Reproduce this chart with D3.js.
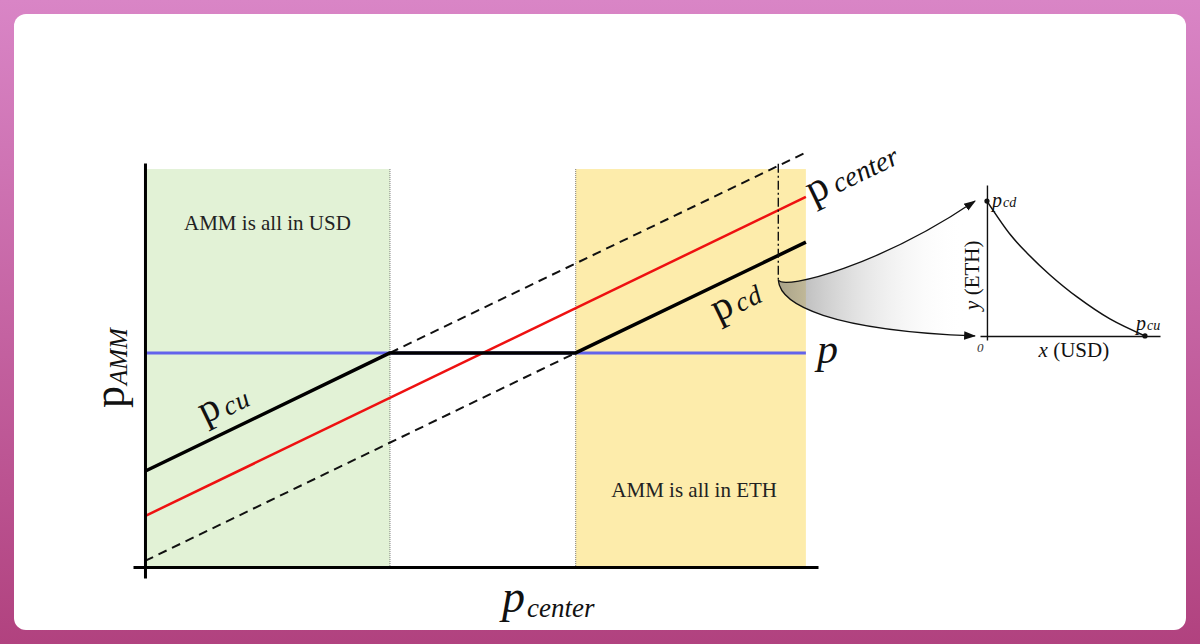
<!DOCTYPE html>
<html>
<head>
<meta charset="utf-8">
<script src="https://cdn.jsdelivr.net/npm/d3@7"></script>
<style>
  html, body { margin: 0; padding: 0; }
  body { width: 1200px; height: 644px; overflow: hidden; }
  text { font-family: "Liberation Serif", "DejaVu Serif", serif; }
</style>
</head>
<body>
<div id="chart"></div>
<script>
// main chart, p_center on x, p_AMM on y (arbitrary units)
const lineX = [0, 98.2];
const pCenterY = [12.6, 91.6];
const pCuDashX = [36.4, 98.2];
const pCuDashY = [53, 102.6];
const pCdDashX = [0, 64];
const pCdDashY = [1.5, 53];
const pAmmX = [0, 36.4, 64, 98.2];
const pAmmY = [23.7, 53, 53, 80.4];
const pPrice = 53;
const regionX = [[0, 36.4], [64, 98.2]];
const regionTop = 98.5;
const regionLabels = ['AMM is all in USD', 'AMM is all in ETH'];
const cutX = 94.1;
const cutY = [99.8, 71];

// inset: reserve curve, x (USD) vs y (ETH)
const curveX = [0, 0.15, 0.253, 0.399, 0.57, 0.778, 1];
const curveY = [1, 0.748, 0.615, 0.452, 0.289, 0.126, 0];

const width = 1200, height = 644;

const svg = d3.select('#chart')
  .append('svg')
  .attr('width', width)
  .attr('height', height);

const defs = svg.append('defs');

const bg = defs.append('linearGradient')
  .attr('id', 'bg')
  .attr('x1', 0).attr('y1', 0).attr('x2', 0).attr('y2', 1);
bg.append('stop').attr('offset', '0%').attr('stop-color', '#d985c6');
bg.append('stop').attr('offset', '100%').attr('stop-color', '#b1427f');

const fade = defs.append('linearGradient')
  .attr('id', 'fade')
  .attr('gradientUnits', 'userSpaceOnUse')
  .attr('x1', 778).attr('y1', 0).attr('x2', 965).attr('y2', 0);
fade.append('stop').attr('offset', '0%').attr('stop-color', '#707070').attr('stop-opacity', 0.6);
fade.append('stop').attr('offset', '100%').attr('stop-color', '#ffffff').attr('stop-opacity', 0);

defs.append('marker')
  .attr('id', 'arrow')
  .attr('viewBox', '0 0 10 10')
  .attr('refX', 9).attr('refY', 5)
  .attr('markerWidth', 12).attr('markerHeight', 12)
  .attr('markerUnits', 'userSpaceOnUse')
  .attr('orient', 'auto')
  .append('path')
  .attr('d', 'M0,1.5 L10,5 L0,8.5 Z')
  .attr('fill', '#111');

svg.append('rect')
  .attr('width', width).attr('height', height)
  .attr('fill', 'url(#bg)');

svg.append('rect')
  .attr('x', 14).attr('y', 14)
  .attr('width', 1172).attr('height', 616)
  .attr('rx', 12)
  .attr('fill', '#fff');

const x = d3.scaleLinear([-1.78, 100], [133, 818]);
const y = d3.scaleLinear([-2.72, 100], [578, 163]);

const line = d3.line().x((d) => x(d[0])).y((d) => y(d[1]));

// shaded regions
const regionColors = ['#e2f2d6', '#fdecab'];
svg.append('g')
  .selectAll('rect')
  .data(regionX)
  .enter()
  .append('rect')
  .attr('x', (d) => x(d[0]))
  .attr('y', y(regionTop))
  .attr('width', (d) => x(d[1]) - x(d[0]))
  .attr('height', y(0) - y(regionTop))
  .attr('fill', (d, i) => regionColors[i]);

// dotted borders of the middle band
svg.append('g')
  .selectAll('line')
  .data([regionX[0][1], regionX[1][0]])
  .enter()
  .append('line')
  .attr('x1', (d) => x(d)).attr('x2', (d) => x(d))
  .attr('y1', y(regionTop)).attr('y2', y(0))
  .attr('stroke', '#777')
  .attr('stroke-width', 1)
  .attr('stroke-dasharray', '1,1');

svg.append('text')
  .attr('x', x(18.2)).attr('y', 230)
  .attr('text-anchor', 'middle')
  .attr('font-size', 21)
  .attr('fill', '#222')
  .text(regionLabels[0]);

svg.append('text')
  .attr('x', x(81.6)).attr('y', 497)
  .attr('text-anchor', 'middle')
  .attr('font-size', 21)
  .attr('fill', '#222')
  .text(regionLabels[1]);

// p (blue)
svg.append('path')
  .attr('d', line([[lineX[0], pPrice], [lineX[1], pPrice]]))
  .attr('stroke', '#6363ec')
  .attr('stroke-width', 3)
  .attr('fill', 'none');

// dashed p_cu / p_cd
svg.append('path')
  .attr('d', line(pCuDashX.map((d, i) => [d, pCuDashY[i]])))
  .attr('stroke', '#111')
  .attr('stroke-width', 2)
  .attr('stroke-dasharray', '9,6')
  .attr('fill', 'none');

svg.append('path')
  .attr('d', line(pCdDashX.map((d, i) => [d, pCdDashY[i]])))
  .attr('stroke', '#111')
  .attr('stroke-width', 2)
  .attr('stroke-dasharray', '9,6')
  .attr('fill', 'none');

// p_center (red)
svg.append('path')
  .attr('d', line(lineX.map((d, i) => [d, pCenterY[i]])))
  .attr('stroke', '#ee1111')
  .attr('stroke-width', 2.5)
  .attr('fill', 'none');

// p_AMM (black)
svg.append('path')
  .attr('d', line(pAmmX.map((d, i) => [d, pAmmY[i]])))
  .attr('stroke', '#000')
  .attr('stroke-width', 3.5)
  .attr('stroke-linejoin', 'round')
  .attr('fill', 'none');

// dash-dot cut
svg.append('line')
  .attr('x1', x(cutX)).attr('x2', x(cutX))
  .attr('y1', y(cutY[0])).attr('y2', y(cutY[1]))
  .attr('stroke', '#111')
  .attr('stroke-width', 1.4)
  .attr('stroke-dasharray', '9,3,2,3');

// axes
svg.append('g')
  .attr('transform', `translate(0,${y(0)})`)
  .call(d3.axisBottom(x).tickValues([]).tickSizeOuter(0))
  .call((g) => g.select('.domain').attr('stroke', '#000').attr('stroke-width', 3));

svg.append('g')
  .attr('transform', `translate(${x(0)},0)`)
  .call(d3.axisLeft(y).tickValues([]).tickSizeOuter(0))
  .call((g) => g.select('.domain').attr('stroke', '#000').attr('stroke-width', 3));

const angle = Math.atan2(y(pCenterY[1]) - y(pCenterY[0]), x(lineX[1]) - x(lineX[0])) * 180 / Math.PI;

function subLabel(px, py, rot, main, sub, opts) {
  const t = svg.append('text')
    .attr('transform', `translate(${px},${py}) rotate(${rot})`)
    .attr('fill', '#111');
  t.append('tspan')
    .attr('font-size', opts.main)
    .attr('font-style', opts.italicMain ? 'italic' : 'normal')
    .text(main);
  t.append('tspan')
    .attr('font-size', opts.sub)
    .attr('font-style', 'italic')
    .attr('dx', opts.dx || 1)
    .attr('dy', opts.dy || 0)
    .attr('letter-spacing', opts.ls || 0)
    .text(sub);
  return t;
}

subLabel(205, 424, angle, 'p', 'cu', { main: 40, sub: 27, dx: 4, dy: 3, ls: 1 });
subLabel(718, 322, angle, 'p', 'cd', { main: 40, sub: 27, dx: 4, dy: 1, ls: 1 });
subLabel(813, 204, angle, 'p', 'center', { main: 42, sub: 28, dx: 6, dy: 1 });
subLabel(124, 408, -90, 'p', 'AMM', { main: 44, sub: 25, dx: 1, dy: 3 });
subLabel(502, 612, 0, 'p', 'center', { main: 46, sub: 27, dx: 2, dy: 5, italicMain: true });

svg.append('text')
  .attr('x', 817).attr('y', 363)
  .attr('font-size', 42)
  .attr('font-style', 'italic')
  .attr('fill', '#111')
  .text('p');

// inset
const ix = d3.scaleLinear([-0.044, 1.095], [980, 1160]);
const iy = d3.scaleLinear([-0.03, 1.119], [340, 185]);

// funnel from the cut to the inset axes
const start = [x(cutX), y(cutY[1])];
const tipX = ix(-0.076);
const topTip = [tipX, iy(1)];
const botTip = [tipX, iy(0)];

const topPath = d3.path();
topPath.moveTo(start[0], start[1]);
topPath.bezierCurveTo(start[0] + 7, start[1] + 10, start[0] + 102, start[1] - 15, topTip[0], topTip[1]);

const botPath = d3.path();
botPath.moveTo(start[0], start[1]);
botPath.bezierCurveTo(start[0] + 2, start[1] + 25, start[0] + 52, start[1] + 50, botTip[0], botTip[1]);

const fillPath = d3.path();
fillPath.moveTo(start[0], start[1]);
fillPath.bezierCurveTo(start[0] + 7, start[1] + 10, start[0] + 102, start[1] - 15, topTip[0], topTip[1]);
fillPath.lineTo(botTip[0], botTip[1]);
fillPath.bezierCurveTo(start[0] + 52, start[1] + 50, start[0] + 2, start[1] + 25, start[0], start[1]);
fillPath.closePath();

svg.append('path')
  .attr('d', fillPath.toString())
  .attr('fill', 'url(#fade)');

[topPath, botPath].forEach((p) => {
  svg.append('path')
    .attr('d', p.toString())
    .attr('stroke', '#111')
    .attr('stroke-width', 1.3)
    .attr('fill', 'none')
    .attr('marker-end', 'url(#arrow)');
});

svg.append('g')
  .attr('transform', `translate(0,${iy(0)})`)
  .call(d3.axisBottom(ix).tickValues([]).tickSizeOuter(0))
  .call((g) => g.select('.domain').attr('stroke', '#111').attr('stroke-width', 1.4));

svg.append('g')
  .attr('transform', `translate(${ix(0)},0)`)
  .call(d3.axisLeft(iy).tickValues([]).tickSizeOuter(0))
  .call((g) => g.select('.domain').attr('stroke', '#111').attr('stroke-width', 1.4));

svg.append('path')
  .attr('d', d3.line().curve(d3.curveCatmullRom)
    .x((d) => ix(d[0])).y((d) => iy(d[1]))(curveX.map((d, i) => [d, curveY[i]])))
  .attr('stroke', '#111')
  .attr('stroke-width', 1.5)
  .attr('fill', 'none');

svg.append('g')
  .selectAll('circle')
  .data([[curveX[0], curveY[0]], [curveX[curveX.length - 1], curveY[curveY.length - 1]]])
  .enter()
  .append('circle')
  .attr('cx', (d) => ix(d[0]))
  .attr('cy', (d) => iy(d[1]))
  .attr('r', 2.6)
  .attr('fill', '#111');

subLabel(992, 207, 0, 'p', 'cd', { main: 20, sub: 14, dx: 1, dy: 0, italicMain: true });
subLabel(1136, 330, 0, 'p', 'cu', { main: 20, sub: 14, dx: 1, dy: 0, italicMain: true });

svg.append('text')
  .attr('x', 977).attr('y', 352)
  .attr('font-size', 13)
  .attr('font-style', 'italic')
  .attr('fill', '#333')
  .text('0');

const xl = svg.append('text')
  .attr('x', ix(0.55)).attr('y', 357)
  .attr('text-anchor', 'middle')
  .attr('font-size', 21)
  .attr('fill', '#111');
xl.append('tspan').attr('font-style', 'italic').text('x');
xl.append('tspan').text(' (USD)');

const yl = svg.append('text')
  .attr('transform', `translate(979,${iy(0.45)}) rotate(-90)`)
  .attr('text-anchor', 'middle')
  .attr('font-size', 21)
  .attr('fill', '#111');
yl.append('tspan').attr('font-style', 'italic').text('y');
yl.append('tspan').text(' (ETH)');
</script>
</body>
</html>
